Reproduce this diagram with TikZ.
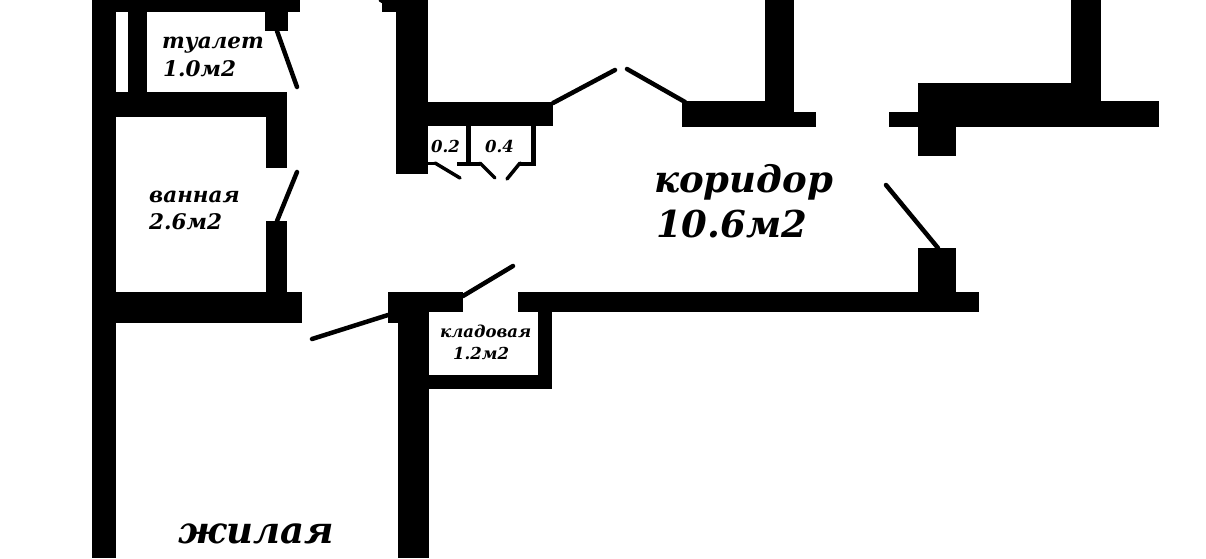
\documentclass[tikz,border=0pt]{standalone}
\usepackage{fontspec}
\setmainfont{DejaVu Serif}
\tikzset{
  wall/.style={fill=black},
  door/.style={draw=black, line width=4.5pt, line cap=round},
  thindoor/.style={draw=black, line width=3.5pt, line cap=round},
  tinylabel/.style={anchor=base west, inner sep=0pt, font=\bfseries\itshape\fontsize{16.5}{16.5}\selectfont},
  roomlabel/.style={anchor=base west, inner sep=0pt, font=\bfseries\itshape\fontsize{21.5}{21.5}\selectfont},
  biglabel/.style={anchor=base west, inner sep=0pt, font=\bfseries\itshape\fontsize{37}{37}\selectfont}
}

\begin{document}
\begin{tikzpicture}[x=1pt,y=-1pt]
\useasboundingbox (0,0) rectangle (1206,558);
\fill[white] (0,0) rectangle (1206,558);

% ===== Left block: toilet and bath =====
\fill[wall] (92,0) rectangle (116,558);
\fill[wall] (116,0) rectangle (300,12);
\fill[wall] (128,12) rectangle (147,92);
\fill[wall] (265,12) rectangle (288,31);
\fill[wall] (92,92) rectangle (287,117);
\fill[wall] (266,117) rectangle (287,168);
\fill[wall] (266,221) rectangle (287,292);
\fill[wall] (92,292) rectangle (302,323);

% Doors of toilet and bath
\draw[door] (277,31) -- (297,87);
\draw[door] (297,172) -- (277,221);

% ===== Middle wall with closets =====
\fill[wall] (382,0) rectangle (428,12);
\fill[wall] (396,12) rectangle (428,174);
\fill[wall] (428,102) rectangle (553,126);
\fill[wall] (466,126) rectangle (471,166);
\fill[wall] (531,126) rectangle (536,166);
\fill[wall] (457,162) rectangle (480,166);
\fill[wall] (520,162) rectangle (536,166);
\fill[wall] (428,162) rectangle (435,165);

% Doors of closets
\draw[thindoor] (435,163) -- (460,178);
\draw[thindoor] (480,163) -- (495,178);
\draw[thindoor] (520,163) -- (507,179);
\draw[thindoor] (380,0) -- (385,3);

% Double door above the corridor
\draw[door] (553,103) -- (615,70);
\draw[door] (627,69) -- (685,102);

% ===== Upper right walls =====
\fill[wall] (682,101) rectangle (794,127);
\fill[wall] (765,0) rectangle (794,101);
\fill[wall] (794,112) rectangle (816,127);
\fill[wall] (889,112) rectangle (918,127);
\fill[wall] (918,101) rectangle (1159,127);
\fill[wall] (918,83) rectangle (1101,101);
\fill[wall] (1071,0) rectangle (1101,83);
\fill[wall] (918,127) rectangle (956,156);

% ===== Lower wall and storeroom =====
\fill[wall] (388,292) rectangle (463,312);
\fill[wall] (388,312) rectangle (429,323);
\fill[wall] (398,323) rectangle (429,558);
\fill[wall] (518,292) rectangle (979,312);
\fill[wall] (918,248) rectangle (956,292);
\fill[wall] (538,312) rectangle (552,389);
\fill[wall] (429,375) rectangle (538,389);

% Doors of room, storeroom and corridor
\draw[door] (312,339) -- (388,315);
\draw[door] (463,296) -- (513,266);
\draw[door] (886,185) -- (938,248);

% ===== Labels =====
\node[roomlabel] (toilet) at (162,48) {туалет};
\node[roomlabel] (toiletarea) at (163,76) {1.0м2};
\node[roomlabel] (bath) at (149,202) {ванная};
\node[roomlabel] (batharea) at (149,229) {2.6м2};
\node[tinylabel] (closeta) at (431,152) {0.2};
\node[tinylabel] (closetb) at (485,152) {0.4};
\node[tinylabel] (store) at (440,337) {кладовая};
\node[tinylabel] (storearea) at (453,359) {1.2м2};
\node[biglabel] (corridor) at (654,192) {коридор};
\node[biglabel] (corridorarea) at (656,237) {10.6м2};
\node[biglabel] (living) at (178,543) {жилая};
\end{tikzpicture}
\end{document}
